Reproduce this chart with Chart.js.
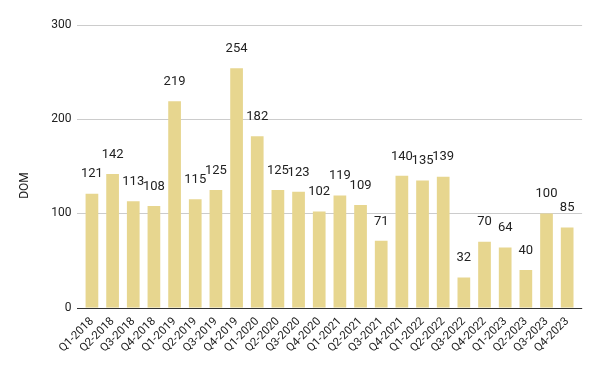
<!DOCTYPE html>
<html>
<head>
<meta charset="utf-8">
<script src="https://cdn.jsdelivr.net/npm/chart.js@4"></script>
<style>
  html, body { margin: 0; padding: 0; background: #fff; }
  #wrap { width: 600px; height: 371px; position: relative; }
</style>
</head>
<body>
<div id="wrap"><canvas id="c" width="600" height="371"></canvas></div>
<script>
const categories = ["Q1-2018","Q2-2018","Q3-2018","Q4-2018","Q1-2019","Q2-2019","Q3-2019","Q4-2019",
  "Q1-2020","Q2-2020","Q3-2020","Q4-2020","Q1-2021","Q2-2021","Q3-2021","Q4-2021",
  "Q1-2022","Q2-2022","Q3-2022","Q4-2022","Q1-2023","Q2-2023","Q3-2023","Q4-2023"];
const domValues = [121,142,113,108,219,115,125,254,182,125,123,102,119,109,71,140,135,139,32,70,64,40,100,85];
const yTicks = [0,100,200,300];
const yTitle = "DOM";

const FONT = "Roboto, 'Noto Sans', sans-serif";

const gridPlugin = {
  id: 'extGrid',
  beforeDatasetsDraw(chart) {
    const ctx = chart.ctx, area = chart.chartArea, y = chart.scales.y;
    const ext = 4.6;
    ctx.save();
    yTicks.forEach(v => {
      const py = Math.round(y.getPixelForValue(v)) + 0.5;
      ctx.beginPath();
      ctx.strokeStyle = v === 0 ? '#333333' : '#cccccc';
      ctx.lineWidth = 1;
      ctx.moveTo(area.left - ext, py);
      ctx.lineTo(area.right + ext, py);
      ctx.stroke();
    });
    ctx.restore();
  },
  afterDatasetsDraw(chart) {
    const ctx = chart.ctx, y = chart.scales.y;
    const py = Math.round(y.getPixelForValue(0)) + 0.5;
    const area = chart.chartArea;
    ctx.save();
    ctx.beginPath();
    ctx.strokeStyle = '#333333';
    ctx.lineWidth = 1;
    ctx.moveTo(area.left - 4.6, py);
    ctx.lineTo(area.right + 4.6, py);
    ctx.stroke();
    const meta = chart.getDatasetMeta(0);
    ctx.font = '13px ' + FONT;
    ctx.fillStyle = '#222222';
    ctx.textAlign = 'center';
    ctx.textBaseline = 'middle';
    meta.data.forEach((bar, i) => {
      ctx.fillText(String(domValues[i]), bar.x, bar.y - 19.5);
    });
    ctx.save();
    ctx.translate(25, chart.height / 2);
    ctx.rotate(-Math.PI / 2);
    ctx.font = '12px ' + FONT;
    ctx.fillStyle = '#222222';
    ctx.fillText(yTitle, 0, 0);
    ctx.restore();
    ctx.restore();
  }
};

new Chart(document.getElementById('c'), {
  type: 'bar',
  data: {
    labels: categories,
    datasets: [{
      label: yTitle,
      data: domValues,
      backgroundColor: '#e7d68f',
      borderWidth: 0,
      barPercentage: 0.615,
      categoryPercentage: 1.0
    }]
  },
  options: {
    responsive: false,
    animation: false,
    devicePixelRatio: 1,
    layout: { padding: { top: 25, right: 22.5, left: 0, bottom: 0 } },
    plugins: { legend: { display: false }, tooltip: { enabled: false } },
    scales: {
      x: {
        grid: { display: false, drawTicks: false },
        border: { display: false },
        ticks: {
          font: { family: FONT, size: 11.5 },
          color: '#222222',
          maxRotation: 45, minRotation: 45,
          autoSkip: false,
          padding: 7
        },
        afterFit(scale) { scale.height = 63.3; }
      },
      y: {
        min: 0, max: 300,
        grid: { display: false, drawTicks: false },
        border: { display: false },
        afterBuildTicks(scale) { scale.ticks = yTicks.map(v => ({ value: v })); },
        ticks: {
          font: { family: FONT, size: 12 },
          color: '#222222',
          padding: 10
        },
        afterFit(scale) { scale.width = 81.6; }
      }
    }
  },
  plugins: [gridPlugin]
});
</script>
</body>
</html>
